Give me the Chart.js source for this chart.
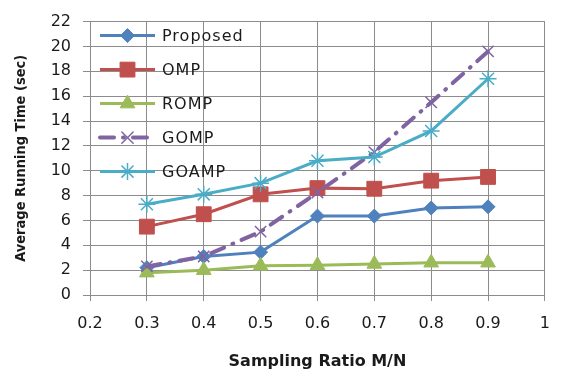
<!DOCTYPE html>
<html><head><meta charset="utf-8">
<script src="https://cdn.jsdelivr.net/npm/chart.js@4/dist/chart.umd.min.js"></script>
<style>html,body{margin:0;padding:0;background:#fff}#wrap{width:563px;height:377px}</style>
</head><body><div id="wrap"><canvas id="c" width="563" height="377"></canvas></div>
<script>
const ratios = [0.3, 0.4, 0.5, 0.6, 0.7, 0.8, 0.9];
const proposed = [2.2, 3.1, 3.45, 6.35, 6.35, 7.0, 7.1];
const omp = [5.5, 6.5, 8.1, 8.6, 8.55, 9.2, 9.5];
const romp = [1.8, 2.0, 2.35, 2.4, 2.5, 2.6, 2.6];
const gomp = [2.3, 3.1, 5.1, 8.25, 11.5, 15.5, 19.6];
const goamp = [7.3, 8.1, 9.0, 10.8, 11.1, 13.2, 17.4];
const seriesNames = ['Proposed', 'OMP', 'ROMP', 'GOMP', 'GOAMP'];
const xTickValues = [0.2, 0.3, 0.4, 0.5, 0.6, 0.7, 0.8, 0.9, 1];
const yTickValues = [0, 2, 4, 6, 8, 10, 12, 14, 16, 18, 20, 22];
const xTitle = 'Sampling Ratio M/N';
const yTitle = 'Average Running Time (sec)';

const pts = arr => arr.map((v, i) => ({x: ratios[i], y: v}));
const FONT = '"DejaVu Sans", Verdana, sans-serif';
const CFONT = '"DejaVu Sans Condensed", "DejaVu Sans", sans-serif';
const GRID = '#8c8c8c';

const styles = [
  {c: '#4F81BD', ps: 'rectRot', r: 7, bw: 1},
  {c: '#C0504D', ps: 'rect', r: 10.5, bw: 1},
  {c: '#9BBB59', ps: 'triangle', r: 8.5, bw: 1},
  {c: '#8064A2', ps: 'crossRot', r: 8, bw: 1.5, dash: [14, 9, 1, 9]},
  {c: '#4BACC6', ps: 'star', r: 8.5, bw: 1.5}
];
const seriesData = [proposed, omp, romp, gomp, goamp];

const datasets = seriesData.map((d, i) => ({
  label: seriesNames[i],
  data: pts(d),
  borderColor: styles[i].c,
  backgroundColor: styles[i].c,
  pointBackgroundColor: styles[i].c,
  pointBorderColor: styles[i].c,
  borderWidth: i === 3 ? 4 : 3,
  borderDash: styles[i].dash || [],
  borderCapStyle: i === 3 ? 'round' : 'butt',
  pointStyle: styles[i].ps,
  pointRadius: styles[i].r,
  pointBorderWidth: styles[i].bw,
  tension: 0,
  order: 4 - i
}));

const legendPlugin = {
  id: 'inLegend',
  afterDatasetsDraw(chart) {
    const ctx = chart.ctx;
    const a = chart.chartArea;
    ctx.save();
    chart.data.datasets.forEach((ds, i) => {
      const y = a.top + 14 + i * 34;
      const x0 = a.left + 10, x1 = a.left + 65;
      ctx.strokeStyle = ds.borderColor;
      ctx.lineWidth = ds.borderWidth;
      ctx.setLineDash(ds.borderDash || []);
      ctx.lineCap = ds.borderCapStyle;
      ctx.beginPath(); ctx.moveTo(x0, y); ctx.lineTo(x1, y); ctx.stroke();
      ctx.setLineDash([]);
      ctx.fillStyle = ds.pointBackgroundColor;
      ctx.strokeStyle = ds.pointBorderColor;
      ctx.lineWidth = ds.pointBorderWidth;
      Chart.helpers.drawPoint(ctx, {pointStyle: ds.pointStyle, radius: ds.pointRadius, borderWidth: ds.pointBorderWidth, rotation: 0}, (x0 + x1) / 2, y);
      ctx.fillStyle = '#1a1a1a';
      ctx.font = '16px ' + FONT;
      ctx.letterSpacing = '1px';
      ctx.textBaseline = 'middle';
      ctx.textAlign = 'left';
      ctx.fillText(ds.label, a.left + 72, y + 1);
      ctx.letterSpacing = '0px';
    });
    ctx.restore();
  }
};

new Chart(document.getElementById('c'), {
  type: 'line',
  data: {datasets},
  options: {
    responsive: false,
    devicePixelRatio: 1,
    animation: false,
    layout: {padding: {top: 12, right: 8, left: 0, bottom: 0}},
    plugins: {legend: {display: false}, tooltip: {enabled: false}},
    scales: {
      x: {
        type: 'linear', min: 0.2, max: 1,
        afterBuildTicks: s => { s.ticks = xTickValues.map(v => ({value: v})); },
        afterFit: s => { s.height = 82; },
        ticks: {color: '#1a1a1a', font: {family: FONT, size: 16}, padding: 13, maxRotation: 0,
          callback: v => String(+v.toFixed(1))},
        grid: {color: GRID, lineWidth: 1, tickLength: 6},
        border: {color: GRID},
        title: {display: true, text: xTitle, color: '#1a1a1a', font: {family: FONT, size: 16, weight: 'bold'}, padding: {bottom: 6, top: 0}}
      },
      y: {
        min: 0, max: 22,
        afterBuildTicks: s => { s.ticks = yTickValues.map(v => ({value: v})); },
        afterFit: s => { s.width = 90; },
        ticks: {color: '#1a1a1a', font: {family: FONT, size: 16}, padding: 12},
        grid: {color: GRID, lineWidth: 1, tickLength: 7},
        border: {color: GRID},
        title: {display: true, text: yTitle, color: '#1a1a1a', font: {family: CFONT, size: 14.5, weight: 'bold'}, padding: {top: 13, bottom: 0}}
      }
    }
  },
  plugins: [legendPlugin]
});
</script>
</body></html>
